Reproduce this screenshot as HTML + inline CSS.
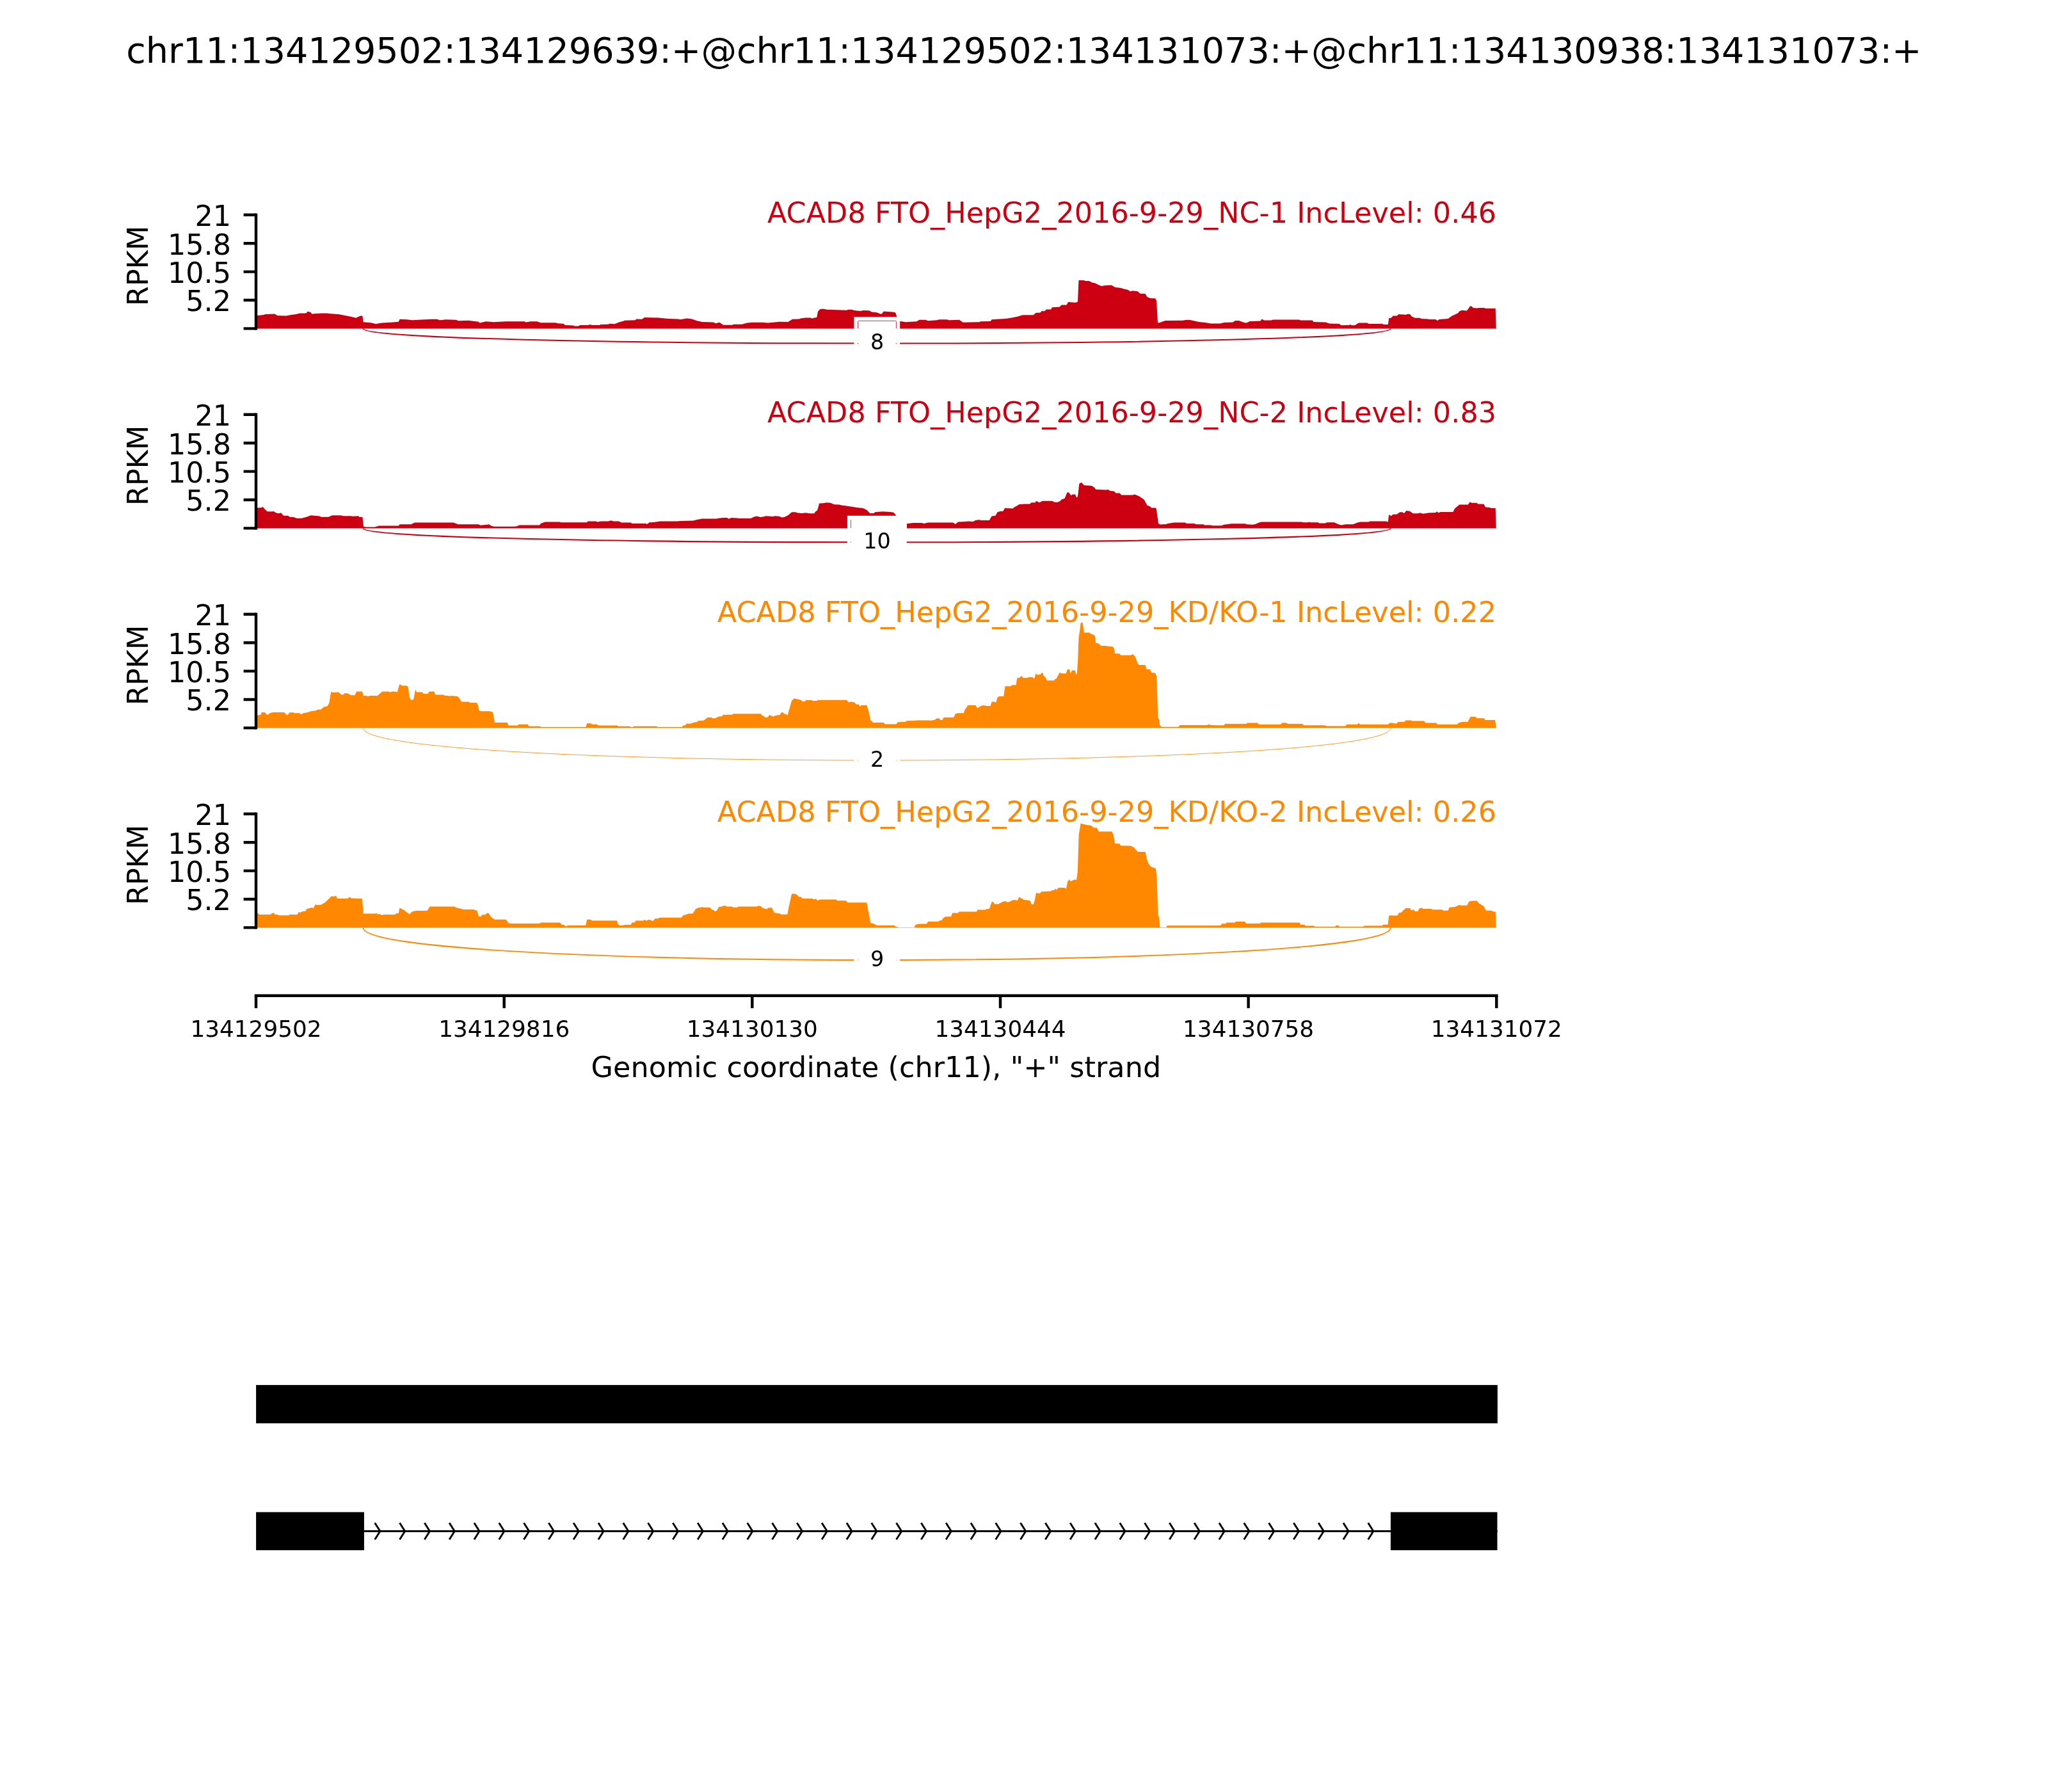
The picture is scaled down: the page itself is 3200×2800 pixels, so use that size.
<!DOCTYPE html><html><head><meta charset="utf-8"><title>Sashimi plot</title><style>html,body{margin:0;padding:0;background:#fff;width:3200px;height:2800px;overflow:hidden}svg{display:block;will-change:transform}text{font-family:'DejaVu Sans','Liberation Sans',sans-serif}</style></head><body>
<svg width="3200" height="2800" viewBox="0 0 3200 2800">
<rect width="3200" height="2800" fill="#fff"/>
<text x="1600" y="97.7" font-size="55.56" text-anchor="middle">chr11:134129502:134129639:+@chr11:134129502:134131073:+@chr11:134130938:134131073:+</text>
<path d="M400.0,513.4 L400.0,492.9 L402.0,492.9 L411.7,492.1 L414.6,491.0 L429.3,490.5 L433.2,492.9 L446.9,493.5 L454.7,492.1 L462.5,491.0 L468.4,489.6 L478.1,489.6 L481.0,486.6 L486.0,488.2 L487.0,490.5 L501.6,489.6 L511.3,489.6 L517.2,490.2 L528.9,491.0 L536.7,492.5 L548.4,494.8 L556.2,496.8 L563.1,493.5 L566.4,493.5 L567.6,503.2 L579.7,504.2 L587.5,506.2 L591.4,505.2 L597.3,504.6 L611.0,503.8 L622.7,502.7 L624.6,498.8 L636.3,499.3 L644.1,500.3 L673.4,498.8 L683.2,498.8 L687.1,500.3 L696.9,499.3 L712.5,499.7 L716.4,501.3 L732.0,500.7 L747.7,502.7 L749.6,504.6 L759.4,502.3 L771.1,503.2 L790.6,502.3 L800.0,502.3 L819.5,502.3 L821.5,503.4 L829.3,502.3 L839.0,502.3 L844.9,504.2 L868.4,504.2 L871.3,505.2 L880.1,505.8 L883.0,508.1 L895.7,508.5 L897.7,509.5 L903.5,509.5 L906.4,508.1 L919.1,508.1 L922.1,507.1 L925.0,508.1 L936.7,508.1 L938.7,507.1 L950.4,506.8 L952.3,505.8 L960.2,506.2 L968.0,503.2 L973.8,501.7 L975.8,500.7 L992.4,500.3 L994.3,498.4 L1003.1,498.8 L1007.0,496.0 L1028.5,496.4 L1044.1,498.0 L1059.8,498.4 L1062.7,499.3 L1073.4,497.4 L1081.2,498.4 L1089.1,501.3 L1096.9,502.9 L1114.5,503.4 L1118.4,505.2 L1124.2,503.8 L1130.1,507.7 L1143.8,507.7 L1146.7,506.8 L1159.4,506.8 L1167.2,504.6 L1177.0,503.8 L1190.6,503.8 L1200.0,504.6 L1207.8,503.8 L1217.6,502.7 L1231.2,503.0 L1238.1,498.8 L1248.8,498.4 L1250.8,497.4 L1258.6,496.4 L1266.4,496.4 L1268.4,497.4 L1276.2,496.0 L1278.1,486.6 L1282.0,482.7 L1287.9,482.7 L1291.8,483.7 L1323.0,484.7 L1325.0,483.7 L1330.9,483.7 L1334.8,485.1 L1344.5,486.1 L1348.4,485.1 L1358.2,485.3 L1362.1,487.6 L1369.9,488.2 L1375.8,490.5 L1377.7,490.5 L1380.7,486.6 L1395.3,487.6 L1399.2,488.6 L1401.2,494.5 L1403.0,513.4 L1406.1,513.4 L1406.1,501.9 L1409.0,502.3 L1414.8,503.2 L1432.4,502.3 L1436.3,499.7 L1446.1,499.7 L1450.0,501.3 L1463.7,500.3 L1467.6,499.3 L1479.3,499.3 L1483.2,500.3 L1498.8,499.7 L1504.7,503.8 L1530.1,503.2 L1532.0,502.3 L1547.7,501.9 L1549.6,499.3 L1557.4,498.8 L1571.1,498.0 L1580.9,496.4 L1590.6,494.5 L1596.5,492.5 L1600.0,492.3 L1614.6,492.3 L1618.6,488.8 L1625.4,488.4 L1628.3,485.4 L1631.2,486.4 L1635.2,483.5 L1642.0,483.5 L1643.9,480.2 L1655.7,479.6 L1658.6,476.6 L1666.4,476.6 L1669.3,471.8 L1673.2,472.3 L1680.1,472.7 L1684.0,471.8 L1685.4,438.0 L1693.8,438.0 L1695.7,438.9 L1701.6,438.9 L1706.4,441.5 L1711.3,442.5 L1717.2,445.4 L1721.1,447.0 L1727.0,446.0 L1736.7,445.4 L1742.6,448.9 L1750.4,449.7 L1756.2,451.6 L1762.1,452.8 L1766.0,455.2 L1769.9,454.2 L1777.7,455.2 L1781.6,458.7 L1789.5,459.1 L1792.4,463.9 L1797.3,465.9 L1805.1,466.3 L1807.0,469.8 L1809.0,504.0 L1810.9,504.4 L1820.7,501.1 L1848.0,500.7 L1853.9,499.7 L1859.8,500.1 L1873.4,503.0 L1883.2,504.0 L1892.0,505.5 L1906.6,505.5 L1912.5,504.0 L1926.2,503.6 L1930.1,501.1 L1935.9,501.1 L1943.8,504.0 L1947.7,504.4 L1952.9,502.0 L1969.5,501.6 L1971.5,498.5 L1975.4,500.5 L1986.1,500.5 L1989.1,499.5 L2030.1,499.5 L2032.0,500.5 L2050.6,500.5 L2052.5,503.0 L2071.1,503.4 L2077.0,505.4 L2092.6,505.9 L2095.5,508.3 L2108.2,507.9 L2110.2,506.9 L2112.1,508.3 L2117.0,508.3 L2122.9,504.6 L2136.5,504.6 L2138.5,505.9 L2160.0,505.9 L2161.9,506.9 L2168.8,506.9 L2170.3,497.1 L2173.6,496.8 L2176.6,493.6 L2182.4,493.6 L2185.4,490.9 L2197.1,491.7 L2199.0,490.7 L2202.9,490.7 L2205.9,494.6 L2210.7,496.8 L2218.6,496.8 L2220.5,498.1 L2231.2,498.5 L2233.2,499.1 L2243.0,499.1 L2245.9,501.1 L2248.8,499.1 L2262.5,498.1 L2268.4,493.8 L2278.1,489.3 L2280.1,486.4 L2284.0,484.8 L2291.8,485.4 L2294.7,482.1 L2296.7,478.6 L2299.6,478.6 L2301.6,481.1 L2307.4,481.5 L2311.3,481.1 L2319.1,481.1 L2321.1,482.1 L2336.7,482.1 L2337.7,512.8 L2337.7,513.4 Z" fill="#CC0011"/>
<path d="M567.3,513.4 C567.3,544.2 2172.9,544.2 2172.9,513.4" fill="none" stroke="#CC0011" stroke-width="2.00"/>
<rect x="1334.4" y="495.0" width="71.7" height="83.0" fill="#fff"/>
<text x="1370.5" y="546.2" font-size="33.33" text-anchor="middle">8</text>
<path d="M1340.5,513.0 L1340.5,502.6 Q1340.5,501.4 1341.7,501.4 L1399.2,501.4 Q1400.4,501.4 1400.4,502.6 L1400.4,513.0" fill="none" stroke="#CC0011" stroke-width="0.8"/>
<rect x="1340.0" y="536.0" width="1" height="1" fill="#CC0011"/>
<rect x="1399.9" y="536.0" width="1" height="1" fill="#CC0011"/>
<path d="M400,335.8 L400,513.4" stroke="#000" stroke-width="4.44" stroke-linecap="square"/>
<path d="M380.6,513.4 L400,513.4 M380.6,469.0 L400,469.0 M380.6,424.6 L400,424.6 M380.6,380.2 L400,380.2 M380.6,335.8 L400,335.8 " stroke="#000" stroke-width="4.44"/>
<text x="361" y="486.3" font-size="44.44" text-anchor="end">5.2</text>
<text x="361" y="441.9" font-size="44.44" text-anchor="end">10.5</text>
<text x="361" y="397.5" font-size="44.44" text-anchor="end">15.8</text>
<text x="361" y="353.1" font-size="44.44" text-anchor="end">21</text>
<text transform="translate(231,415.3) rotate(-90)" font-size="44.44" text-anchor="middle">RPKM</text>
<text x="2338" y="348.4" font-size="44.44" text-anchor="end" fill="#CC0011" textLength="1139.1" lengthAdjust="spacing">ACAD8 FTO_HepG2_2016-9-29_NC-1 IncLevel: 0.46</text>
<path d="M400.0,825.4 L400.0,793.5 L402.0,793.5 L408.8,792.9 L410.7,792.1 L413.7,795.4 L417.6,799.3 L425.4,799.3 L427.3,798.8 L431.2,801.3 L435.2,802.3 L439.1,801.3 L443.0,805.8 L449.8,805.8 L452.7,807.7 L458.6,808.1 L464.5,810.1 L471.3,809.7 L478.1,808.1 L485.9,805.2 L499.6,806.6 L501.6,807.7 L513.3,807.7 L519.1,805.2 L532.8,805.2 L536.7,806.2 L548.4,806.2 L551.4,806.8 L560.2,806.2 L561.1,807.7 L566.4,807.7 L568.0,822.8 L571.9,823.4 L585.5,823.4 L592.4,821.4 L622.7,821.4 L624.6,819.3 L642.2,819.3 L648.0,816.5 L708.6,816.5 L715.4,819.3 L747.7,819.3 L750.6,820.8 L761.3,819.8 L764.3,819.3 L767.2,821.4 L772.1,822.8 L800.0,822.8 L806.8,822.4 L811.7,820.4 L843.0,820.4 L844.9,817.9 L851.8,815.4 L874.2,815.4 L876.2,816.3 L917.2,816.3 L918.2,814.4 L930.9,814.4 L933.8,815.4 L938.7,814.4 L950.4,814.4 L953.3,813.4 L956.2,813.4 L958.2,814.4 L967.0,814.4 L970.9,816.5 L985.5,816.5 L987.5,817.9 L1009.0,817.9 L1010.9,818.9 L1014.8,816.3 L1022.7,815.9 L1024.6,815.4 L1031.4,814.4 L1057.8,814.4 L1063.7,814.0 L1083.2,813.4 L1089.1,812.0 L1096.9,810.5 L1120.3,810.5 L1122.3,809.7 L1130.1,809.1 L1136.0,809.1 L1138.9,810.7 L1142.8,809.1 L1151.6,809.5 L1154.5,810.1 L1173.0,810.1 L1177.0,808.1 L1181.8,806.6 L1188.7,808.1 L1194.5,807.1 L1196.5,806.2 L1200.0,806.6 L1207.8,807.1 L1210.7,806.2 L1217.6,806.8 L1221.5,808.5 L1225.4,808.1 L1231.2,805.2 L1237.1,800.3 L1243.0,800.3 L1245.9,801.3 L1252.7,801.9 L1258.6,801.3 L1265.4,802.3 L1272.3,802.3 L1274.2,799.3 L1277.1,797.4 L1280.1,786.6 L1285.9,786.2 L1291.8,785.3 L1297.7,785.7 L1303.5,788.2 L1311.3,788.6 L1315.2,789.6 L1323.0,790.5 L1332.8,792.1 L1338.7,792.9 L1348.4,794.1 L1354.3,796.8 L1359.2,801.9 L1365.0,801.9 L1368.0,799.9 L1379.7,799.3 L1391.4,799.9 L1396.3,800.7 L1400.2,805.2 L1402.0,825.6 L1416.8,825.6 L1416.8,818.3 L1426.6,816.9 L1440.0,816.9 L1444.1,817.9 L1450.0,816.5 L1489.1,816.5 L1493.0,818.9 L1496.9,815.5 L1508.6,815.0 L1512.5,814.4 L1520.3,815.0 L1524.2,813.0 L1530.1,812.0 L1532.0,813.0 L1545.7,813.0 L1549.6,806.6 L1555.5,805.8 L1558.4,800.3 L1563.3,798.8 L1567.2,798.8 L1570.1,794.1 L1582.8,794.5 L1584.8,792.5 L1588.7,790.5 L1592.6,788.0 L1600.0,787.6 L1608.8,787.6 L1611.7,785.3 L1617.6,785.3 L1618.9,782.7 L1624.4,785.3 L1628.3,782.7 L1643.9,782.7 L1647.9,784.7 L1652.7,784.7 L1656.6,782.7 L1658.6,780.4 L1663.5,778.8 L1667.4,769.6 L1670.3,769.6 L1673.2,773.9 L1676.2,772.6 L1680.1,772.6 L1682.0,777.5 L1684.0,775.9 L1686.3,755.8 L1689.8,753.8 L1693.8,758.3 L1705.5,758.9 L1709.4,761.2 L1712.3,764.8 L1728.9,765.5 L1730.9,764.8 L1734.8,767.1 L1740.6,767.5 L1743.6,770.4 L1749.4,770.4 L1752.3,773.4 L1769.9,773.4 L1772.9,772.4 L1779.7,775.3 L1787.5,780.4 L1792.4,789.6 L1797.3,791.5 L1799.2,793.5 L1806.1,793.5 L1807.0,796.4 L1810.0,817.9 L1812.9,819.5 L1822.7,818.9 L1824.6,817.9 L1834.4,816.5 L1852.0,816.5 L1853.9,817.9 L1865.6,817.9 L1869.5,819.3 L1880.3,819.3 L1882.2,820.4 L1892.0,820.4 L1893.9,821.2 L1908.6,821.2 L1912.5,819.8 L1924.2,818.3 L1945.7,818.3 L1947.7,819.3 L1957.4,819.8 L1961.5,819.1 L1967.2,816.5 L1971.1,815.4 L2034.0,815.4 L2035.9,816.3 L2043.8,816.3 L2045.7,815.4 L2047.7,816.3 L2059.4,816.3 L2061.3,817.5 L2071.1,817.5 L2073.0,816.3 L2084.8,816.3 L2090.6,818.9 L2095.5,820.4 L2100.4,819.8 L2102.3,819.3 L2114.1,819.3 L2121.9,816.3 L2125.8,815.4 L2138.5,815.4 L2140.4,814.4 L2165.8,814.4 L2168.8,815.4 L2170.1,804.2 L2173.6,806.2 L2176.6,803.8 L2182.4,803.8 L2187.3,800.3 L2191.2,800.3 L2194.1,801.9 L2197.1,798.0 L2202.9,798.8 L2207.8,802.3 L2215.6,802.3 L2218.6,801.3 L2223.4,802.7 L2233.2,801.3 L2243.0,800.9 L2244.9,799.3 L2247.9,801.3 L2250.8,799.9 L2270.3,799.9 L2273.2,794.5 L2280.1,788.6 L2293.8,788.6 L2296.7,784.3 L2299.6,785.7 L2307.4,785.7 L2309.4,787.6 L2318.2,787.6 L2321.1,792.5 L2327.9,792.9 L2329.9,794.1 L2336.7,794.1 L2337.7,824.7 L2337.7,825.4 Z" fill="#CC0011"/>
<path d="M567.3,825.4 C567.3,854.6 2172.9,854.6 2172.9,825.4" fill="none" stroke="#CC0011" stroke-width="2.10"/>
<rect x="1323.9" y="805.8" width="92.8" height="83.0" fill="#fff"/>
<text x="1370.5" y="857.0" font-size="33.33" text-anchor="middle">10</text>
<path d="M1329.5,812.2 L1329.5,825.2" fill="none" stroke="#CC0011" stroke-width="0.8"/>
<rect x="1329" y="846.8" width="1" height="1" fill="#CC0011"/>
<path d="M400,647.8 L400,825.4" stroke="#000" stroke-width="4.44" stroke-linecap="square"/>
<path d="M380.6,825.4 L400,825.4 M380.6,781.0 L400,781.0 M380.6,736.6 L400,736.6 M380.6,692.2 L400,692.2 M380.6,647.8 L400,647.8 " stroke="#000" stroke-width="4.44"/>
<text x="361" y="798.3" font-size="44.44" text-anchor="end">5.2</text>
<text x="361" y="753.9" font-size="44.44" text-anchor="end">10.5</text>
<text x="361" y="709.5" font-size="44.44" text-anchor="end">15.8</text>
<text x="361" y="665.1" font-size="44.44" text-anchor="end">21</text>
<text transform="translate(231,727.3) rotate(-90)" font-size="44.44" text-anchor="middle">RPKM</text>
<text x="2338" y="660.4" font-size="44.44" text-anchor="end" fill="#CC0011" textLength="1139.1" lengthAdjust="spacing">ACAD8 FTO_HepG2_2016-9-29_NC-2 IncLevel: 0.83</text>
<path d="M400.0,1137.4 L400.0,1117.7 L402.3,1117.7 L407.8,1116.6 L408.8,1112.9 L413.7,1112.9 L416.6,1116.6 L419.5,1116.6 L421.5,1114.2 L426.4,1112.9 L443.9,1112.9 L448.8,1117.7 L452.7,1113.2 L458.6,1113.2 L460.5,1114.2 L468.4,1114.2 L470.3,1116.2 L474.2,1114.2 L480.1,1113.2 L485.9,1111.3 L493.8,1110.3 L495.7,1108.8 L501.6,1108.4 L505.5,1104.8 L511.3,1103.5 L514.3,1098.6 L517.2,1081.0 L520.1,1082.0 L527.0,1081.4 L529.9,1082.0 L532.8,1085.3 L536.7,1085.3 L538.7,1083.0 L543.6,1083.4 L548.4,1086.3 L554.3,1086.3 L557.2,1080.4 L566.0,1080.4 L568.0,1087.3 L571.9,1086.9 L575.8,1087.9 L577.7,1086.9 L585.5,1086.9 L589.5,1087.3 L593.4,1083.9 L597.3,1080.4 L607.0,1080.4 L610.0,1081.4 L612.9,1080.4 L616.8,1080.4 L620.7,1081.4 L624.2,1069.3 L628.5,1071.2 L636.3,1071.6 L638.3,1076.1 L639.3,1088.8 L642.2,1093.7 L646.1,1093.1 L649.0,1077.5 L651.0,1081.4 L659.8,1081.4 L661.7,1083.9 L668.6,1083.9 L670.5,1080.4 L678.3,1080.4 L680.3,1085.5 L693.0,1085.5 L694.9,1086.9 L700.8,1086.9 L702.7,1087.9 L704.7,1086.9 L714.5,1087.9 L717.4,1090.8 L721.3,1096.6 L732.0,1096.6 L735.0,1098.0 L744.7,1098.0 L746.7,1101.5 L748.6,1109.9 L751.6,1111.3 L765.2,1111.3 L770.1,1112.7 L773.0,1128.9 L792.6,1128.9 L794.5,1133.4 L800.0,1133.4 L808.8,1133.4 L810.7,1131.8 L824.4,1131.8 L826.4,1134.7 L843.9,1134.7 L845.9,1136.1 L915.2,1136.1 L917.2,1130.2 L923.0,1130.2 L925.0,1131.8 L932.8,1131.8 L934.8,1133.4 L964.1,1133.4 L966.0,1134.7 L983.6,1134.7 L985.5,1136.1 L988.5,1136.1 L990.4,1134.7 L1025.6,1134.7 L1027.5,1136.1 L1065.6,1136.1 L1067.6,1133.4 L1070.5,1133.4 L1072.5,1130.8 L1079.3,1130.8 L1083.2,1128.9 L1089.1,1127.9 L1091.0,1126.3 L1098.8,1125.9 L1101.8,1124.0 L1105.7,1121.1 L1111.5,1121.1 L1114.5,1122.4 L1118.4,1122.0 L1122.3,1119.7 L1128.1,1119.1 L1130.1,1116.8 L1143.8,1116.8 L1145.7,1115.2 L1188.7,1115.2 L1190.6,1118.1 L1193.5,1118.5 L1195.5,1121.1 L1200.0,1120.5 L1202.0,1117.1 L1205.9,1118.5 L1207.8,1119.7 L1211.7,1118.1 L1218.6,1117.1 L1220.5,1113.2 L1223.4,1113.2 L1225.4,1115.6 L1228.3,1115.8 L1230.3,1118.1 L1233.2,1108.4 L1237.1,1094.7 L1241.0,1091.2 L1244.9,1092.3 L1251.8,1093.7 L1253.7,1096.1 L1257.6,1096.1 L1259.6,1093.7 L1267.4,1093.7 L1270.3,1095.1 L1276.2,1095.1 L1278.1,1093.7 L1323.0,1093.7 L1326.0,1097.6 L1328.9,1096.6 L1334.8,1097.2 L1337.7,1100.5 L1341.6,1100.5 L1343.6,1104.1 L1345.5,1102.1 L1354.3,1102.1 L1357.2,1111.3 L1360.2,1125.0 L1364.1,1128.9 L1380.7,1128.9 L1382.6,1131.4 L1400.2,1131.4 L1403.1,1128.3 L1414.8,1127.9 L1416.8,1126.3 L1430.5,1125.9 L1432.4,1125.4 L1451.0,1125.4 L1452.9,1125.9 L1459.8,1125.0 L1463.7,1122.4 L1467.6,1122.4 L1469.5,1125.0 L1472.5,1125.0 L1474.4,1121.1 L1490.0,1121.1 L1493.0,1115.2 L1496.9,1114.2 L1505.7,1114.2 L1507.6,1108.8 L1512.5,1102.1 L1524.2,1102.1 L1527.1,1106.4 L1530.1,1104.5 L1534.0,1102.5 L1537.9,1102.1 L1539.8,1103.1 L1547.7,1103.1 L1549.6,1096.6 L1553.5,1096.6 L1556.4,1097.6 L1558.4,1089.8 L1561.3,1087.9 L1568.2,1087.9 L1570.5,1072.2 L1576.0,1072.2 L1578.5,1072.5 L1581.8,1070.3 L1587.7,1070.3 L1589.1,1059.5 L1592.6,1058.9 L1596.5,1056.0 L1598.4,1058.9 L1600.0,1059.3 L1605.9,1059.1 L1607.3,1058.1 L1613.2,1058.1 L1616.1,1060.6 L1618.3,1052.5 L1620.5,1054.3 L1625.6,1054.0 L1627.8,1051.1 L1629.3,1051.4 L1630.8,1056.2 L1633.0,1057.7 L1635.9,1063.2 L1646.9,1063.2 L1648.3,1061.3 L1650.5,1060.6 L1652.7,1056.2 L1655.7,1050.8 L1658.6,1052.2 L1665.9,1052.2 L1667.7,1045.9 L1671.0,1045.9 L1672.8,1052.2 L1674.7,1047.4 L1679.8,1047.4 L1681.3,1054.3 L1682.8,1052.5 L1684.2,1032.0 L1685.4,996.9 L1687.2,985.2 L1688.6,973.4 L1691.5,972.3 L1693.8,988.4 L1702.5,988.4 L1705.5,991.0 L1709.1,991.7 L1711.3,994.7 L1712.1,1004.5 L1717.2,1005.7 L1720.1,1008.9 L1729.6,1009.3 L1731.1,1010.1 L1738.4,1010.3 L1740.6,1013.0 L1742.1,1021.0 L1749.4,1021.3 L1750.9,1023.7 L1767.0,1023.7 L1769.9,1022.1 L1773.6,1025.4 L1778.0,1037.2 L1780.2,1038.9 L1789.7,1038.9 L1791.2,1045.5 L1797.0,1045.9 L1799.2,1051.1 L1805.1,1051.4 L1807.3,1056.9 L1808.0,1081.8 L1809.5,1121.4 L1810.9,1123.6 L1812.4,1133.8 L1815.3,1135.7 L1841.7,1135.7 L1843.2,1133.1 L1885.6,1133.1 L1888.6,1132.1 L1891.5,1132.8 L1900.0,1133.2 L1912.1,1133.2 L1914.3,1131.0 L1947.2,1131.0 L1949.4,1129.4 L1964.8,1129.4 L1967.0,1132.1 L2001.1,1132.1 L2003.3,1129.4 L2009.9,1129.4 L2012.1,1131.0 L2035.1,1131.0 L2037.3,1133.2 L2070.3,1133.2 L2072.5,1134.5 L2102.2,1134.5 L2104.4,1132.1 L2120.8,1132.1 L2123.0,1129.4 L2125.2,1132.1 L2169.2,1132.1 L2171.4,1129.4 L2175.8,1129.4 L2179.1,1130.5 L2182.4,1130.5 L2184.6,1127.9 L2194.4,1127.9 L2196.6,1125.5 L2204.3,1125.5 L2206.5,1126.6 L2225.2,1126.6 L2227.4,1129.4 L2243.9,1129.4 L2246.1,1132.1 L2276.8,1132.1 L2279.0,1129.4 L2284.5,1127.9 L2293.3,1127.9 L2297.7,1120.0 L2305.4,1120.0 L2307.6,1122.2 L2318.6,1122.2 L2320.8,1125.0 L2336.2,1125.0 L2337.7,1136.7 L2337.7,1137.4 Z" fill="#FF8800"/>
<path d="M567.3,1137.4 C567.3,1204.9 2172.9,1204.9 2172.9,1137.4" fill="none" stroke="#FF8800" stroke-width="0.85"/>
<rect x="1334.4" y="1146.5" width="71.7" height="83.0" fill="#fff"/>
<text x="1370.5" y="1197.7" font-size="33.33" text-anchor="middle">2</text>
<rect x="1340.0" y="1187.5" width="1" height="1" fill="#FF8800"/>
<rect x="1399.9" y="1187.5" width="1" height="1" fill="#FF8800"/>
<path d="M400,959.8 L400,1137.4" stroke="#000" stroke-width="4.44" stroke-linecap="square"/>
<path d="M380.6,1137.4 L400,1137.4 M380.6,1093.0 L400,1093.0 M380.6,1048.6 L400,1048.6 M380.6,1004.2 L400,1004.2 M380.6,959.8 L400,959.8 " stroke="#000" stroke-width="4.44"/>
<text x="361" y="1110.3" font-size="44.44" text-anchor="end">5.2</text>
<text x="361" y="1065.9" font-size="44.44" text-anchor="end">10.5</text>
<text x="361" y="1021.5" font-size="44.44" text-anchor="end">15.8</text>
<text x="361" y="977.1" font-size="44.44" text-anchor="end">21</text>
<text transform="translate(231,1039.3) rotate(-90)" font-size="44.44" text-anchor="middle">RPKM</text>
<text x="2338" y="972.4" font-size="44.44" text-anchor="end" fill="#FF8800" textLength="1217.3" lengthAdjust="spacing">ACAD8 FTO_HepG2_2016-9-29_KD/KO-1 IncLevel: 0.22</text>
<path d="M400.0,1449.4 L400.0,1426.4 L402.9,1426.4 L404.9,1428.9 L422.5,1428.9 L425.4,1426.8 L428.3,1426.4 L429.3,1428.8 L434.2,1429.3 L436.1,1430.3 L450.8,1430.3 L452.7,1428.9 L464.5,1428.9 L466.4,1425.4 L470.3,1425.4 L472.3,1424.1 L477.1,1424.1 L479.1,1420.2 L484.0,1419.0 L486.9,1418.0 L489.8,1419.0 L492.8,1413.3 L495.7,1414.2 L501.6,1413.7 L504.5,1411.8 L507.4,1410.8 L509.4,1408.4 L512.3,1405.9 L515.2,1403.0 L518.2,1400.0 L521.1,1401.0 L525.0,1399.5 L527.0,1403.9 L543.6,1403.9 L545.5,1401.4 L549.4,1403.4 L566.0,1404.3 L567.6,1427.4 L586.5,1427.4 L588.5,1426.4 L589.5,1428.8 L592.4,1428.0 L597.3,1429.9 L599.2,1428.9 L616.8,1428.9 L619.7,1427.0 L622.7,1427.0 L624.6,1418.2 L627.5,1420.2 L631.4,1422.1 L636.3,1426.0 L640.2,1428.4 L642.2,1426.0 L645.1,1424.1 L650.0,1422.9 L667.6,1422.9 L671.5,1416.6 L709.6,1416.6 L714.5,1418.6 L721.3,1420.0 L723.2,1421.1 L739.8,1421.1 L745.7,1422.9 L747.7,1431.9 L751.6,1431.9 L753.5,1429.3 L758.4,1429.3 L760.4,1426.8 L763.3,1426.8 L768.2,1433.8 L773.0,1436.8 L790.6,1436.8 L794.5,1442.0 L796.5,1443.0 L800.0,1443.0 L843.0,1443.0 L844.9,1441.4 L875.2,1441.4 L877.1,1444.6 L881.1,1445.0 L884.0,1447.5 L886.9,1445.9 L915.2,1445.9 L917.2,1436.8 L923.0,1436.8 L925.0,1438.5 L964.1,1438.5 L965.6,1444.4 L968.9,1445.9 L972.9,1445.9 L975.8,1445.0 L985.5,1445.0 L987.5,1441.6 L991.4,1441.6 L993.4,1438.5 L1005.1,1438.5 L1007.0,1437.1 L1010.0,1438.7 L1012.9,1437.1 L1016.8,1437.5 L1018.8,1438.7 L1020.7,1438.7 L1023.6,1435.2 L1028.5,1435.2 L1030.5,1433.8 L1064.6,1433.8 L1067.6,1429.9 L1073.4,1428.8 L1075.4,1427.4 L1082.2,1427.4 L1087.1,1420.2 L1091.0,1418.2 L1095.9,1418.0 L1097.3,1416.6 L1098.8,1418.0 L1109.6,1418.0 L1112.5,1421.5 L1114.5,1421.5 L1117.4,1424.1 L1120.3,1422.5 L1123.2,1417.0 L1128.1,1416.6 L1130.1,1415.3 L1133.9,1415.3 L1135.9,1416.6 L1143.8,1416.6 L1145.7,1418.0 L1151.6,1418.0 L1153.5,1416.6 L1182.8,1416.6 L1184.8,1415.3 L1188.7,1415.7 L1190.6,1418.2 L1196.5,1420.2 L1198.4,1420.5 L1200.0,1418.4 L1205.9,1418.2 L1209.8,1426.0 L1213.7,1427.0 L1218.6,1427.4 L1220.5,1428.8 L1230.3,1428.8 L1232.2,1418.6 L1237.1,1396.5 L1242.0,1396.5 L1245.9,1398.5 L1247.9,1401.0 L1251.8,1401.4 L1253.7,1403.9 L1269.3,1403.9 L1271.3,1405.3 L1275.2,1404.5 L1277.1,1406.9 L1282.0,1405.5 L1306.4,1405.5 L1308.4,1407.3 L1322.1,1407.3 L1324.0,1410.2 L1354.3,1410.2 L1356.2,1420.5 L1360.2,1442.0 L1366.0,1443.6 L1369.9,1445.9 L1397.3,1445.9 L1399.2,1447.5 L1404.1,1448.9 L1428.5,1448.9 L1430.5,1445.0 L1436.3,1443.4 L1448.0,1443.4 L1450.0,1440.1 L1465.6,1440.1 L1467.6,1438.7 L1471.5,1437.7 L1474.4,1433.8 L1477.3,1432.3 L1486.1,1432.3 L1488.1,1426.4 L1496.9,1426.4 L1498.8,1424.5 L1526.2,1424.5 L1527.1,1421.5 L1539.8,1421.5 L1540.8,1420.2 L1545.7,1420.2 L1547.7,1414.7 L1549.6,1409.2 L1551.6,1409.2 L1554.5,1413.1 L1557.4,1412.3 L1559.4,1413.1 L1562.3,1411.2 L1567.2,1408.8 L1571.1,1407.9 L1574.0,1409.8 L1577.9,1408.8 L1582.8,1406.3 L1587.7,1406.3 L1589.6,1407.3 L1592.6,1401.4 L1596.5,1403.9 L1600.0,1406.0 L1609.5,1406.9 L1611.7,1413.1 L1614.6,1413.1 L1616.8,1406.5 L1619.0,1394.8 L1622.0,1395.9 L1625.6,1395.5 L1627.1,1393.3 L1641.7,1392.6 L1643.9,1391.1 L1646.9,1391.1 L1649.1,1388.2 L1650.5,1390.4 L1654.2,1387.1 L1663.0,1387.1 L1665.9,1388.6 L1668.1,1377.2 L1671.0,1374.2 L1673.2,1377.2 L1675.4,1375.7 L1679.8,1374.2 L1682.0,1375.0 L1683.8,1362.5 L1685.7,1303.9 L1688.6,1286.4 L1693.8,1288.1 L1699.6,1289.3 L1705.5,1290.0 L1708.4,1293.0 L1714.2,1293.4 L1716.5,1299.3 L1737.7,1299.3 L1739.9,1305.4 L1742.1,1317.9 L1749.4,1318.3 L1750.9,1321.2 L1765.5,1321.5 L1770.6,1323.3 L1774.3,1327.1 L1778.0,1331.0 L1789.7,1331.0 L1791.2,1339.8 L1794.1,1348.6 L1797.7,1353.7 L1801.4,1355.5 L1805.8,1356.7 L1807.3,1368.4 L1809.5,1429.9 L1810.9,1432.8 L1812.4,1448.7 L1822.6,1448.9 L1823.4,1446.3 L1900.0,1446.3 L1907.7,1445.9 L1908.8,1443.3 L1915.4,1443.3 L1916.5,1441.5 L1929.7,1441.5 L1930.8,1440.0 L1945.0,1440.0 L1947.2,1443.1 L1968.1,1443.1 L1970.3,1441.5 L2030.7,1441.5 L2031.8,1444.8 L2038.4,1444.8 L2039.5,1446.4 L2052.7,1446.4 L2054.9,1448.1 L2085.7,1448.1 L2087.9,1445.9 L2091.2,1445.9 L2092.3,1448.1 L2129.6,1448.1 L2131.8,1446.4 L2159.3,1446.4 L2161.5,1444.8 L2168.5,1444.8 L2170.3,1430.5 L2183.5,1430.5 L2185.7,1426.6 L2190.0,1425.5 L2192.2,1422.8 L2196.6,1419.1 L2203.2,1419.1 L2205.4,1422.8 L2208.7,1421.1 L2210.9,1423.9 L2215.3,1423.9 L2217.5,1419.6 L2220.8,1418.5 L2224.1,1420.0 L2236.2,1420.0 L2238.4,1421.3 L2253.8,1421.3 L2254.9,1422.8 L2262.6,1422.8 L2264.8,1417.8 L2273.5,1416.9 L2280.1,1414.1 L2283.4,1414.7 L2292.2,1414.7 L2295.5,1408.6 L2301.0,1407.5 L2307.6,1407.5 L2310.9,1411.4 L2315.3,1414.1 L2318.6,1416.3 L2321.9,1422.8 L2330.7,1422.8 L2332.9,1424.4 L2336.8,1424.4 L2337.7,1449.2 L2337.7,1449.4 Z" fill="#FF8800"/>
<path d="M567.3,1449.4 C567.3,1516.9 2172.9,1516.9 2172.9,1449.4" fill="none" stroke="#FF8800" stroke-width="1.90"/>
<rect x="1334.4" y="1458.5" width="71.7" height="83.0" fill="#fff"/>
<text x="1370.5" y="1509.7" font-size="33.33" text-anchor="middle">9</text>
<rect x="1340.0" y="1499.5" width="1" height="1" fill="#FF8800"/>
<rect x="1399.9" y="1499.5" width="1" height="1" fill="#FF8800"/>
<path d="M400,1271.8 L400,1449.4" stroke="#000" stroke-width="4.44" stroke-linecap="square"/>
<path d="M380.6,1449.4 L400,1449.4 M380.6,1405.0 L400,1405.0 M380.6,1360.6 L400,1360.6 M380.6,1316.2 L400,1316.2 M380.6,1271.8 L400,1271.8 " stroke="#000" stroke-width="4.44"/>
<text x="361" y="1422.3" font-size="44.44" text-anchor="end">5.2</text>
<text x="361" y="1377.9" font-size="44.44" text-anchor="end">10.5</text>
<text x="361" y="1333.5" font-size="44.44" text-anchor="end">15.8</text>
<text x="361" y="1289.1" font-size="44.44" text-anchor="end">21</text>
<text transform="translate(231,1351.3) rotate(-90)" font-size="44.44" text-anchor="middle">RPKM</text>
<text x="2338" y="1284.4" font-size="44.44" text-anchor="end" fill="#FF8800" textLength="1217.3" lengthAdjust="spacing">ACAD8 FTO_HepG2_2016-9-29_KD/KO-2 IncLevel: 0.26</text>
<path d="M400,1555.8 L2338.3,1555.8" stroke="#000" stroke-width="4.44" stroke-linecap="square"/>
<path d="M400.0,1555.8 L400.0,1575.2 M787.7,1555.8 L787.7,1575.2 M1175.3,1555.8 L1175.3,1575.2 M1563.0,1555.8 L1563.0,1575.2 M1950.6,1555.8 L1950.6,1575.2 M2338.3,1555.8 L2338.3,1575.2 " stroke="#000" stroke-width="4.44"/>
<text x="400.0" y="1619.8" font-size="35.8" text-anchor="middle">134129502</text>
<text x="787.7" y="1619.8" font-size="35.8" text-anchor="middle">134129816</text>
<text x="1175.3" y="1619.8" font-size="35.8" text-anchor="middle">134130130</text>
<text x="1563.0" y="1619.8" font-size="35.8" text-anchor="middle">134130444</text>
<text x="1950.6" y="1619.8" font-size="35.8" text-anchor="middle">134130758</text>
<text x="2338.3" y="1619.8" font-size="35.8" text-anchor="middle">134131072</text>
<text x="1368.8" y="1683" font-size="44.44" text-anchor="middle" textLength="890.7" lengthAdjust="spacing">Genomic coordinate (chr11), "+" strand</text>
<rect x="400.1" y="2164.1" width="1939.8" height="59.8" fill="#000"/>
<rect x="400.1" y="2362.7" width="168.8" height="59.5" fill="#000"/>
<rect x="2172.9" y="2362.7" width="166.6" height="59.5" fill="#000"/>
<path d="M568.9,2392.5 L2172.9,2392.5" stroke="#000" stroke-width="3"/>
<path d="M585.7,2379.4 L593.9,2392.5 L585.7,2405.6 M624.5,2379.4 L632.7,2392.5 L624.5,2405.6 M663.3,2379.4 L671.5,2392.5 L663.3,2405.6 M702.1,2379.4 L710.3,2392.5 L702.1,2405.6 M740.9,2379.4 L749.1,2392.5 L740.9,2405.6 M779.7,2379.4 L787.9,2392.5 L779.7,2405.6 M818.5,2379.4 L826.7,2392.5 L818.5,2405.6 M857.3,2379.4 L865.5,2392.5 L857.3,2405.6 M896.1,2379.4 L904.3,2392.5 L896.1,2405.6 M934.9,2379.4 L943.1,2392.5 L934.9,2405.6 M973.7,2379.4 L981.9,2392.5 L973.7,2405.6 M1012.5,2379.4 L1020.7,2392.5 L1012.5,2405.6 M1051.3,2379.4 L1059.5,2392.5 L1051.3,2405.6 M1090.1,2379.4 L1098.3,2392.5 L1090.1,2405.6 M1128.9,2379.4 L1137.1,2392.5 L1128.9,2405.6 M1167.7,2379.4 L1175.9,2392.5 L1167.7,2405.6 M1206.5,2379.4 L1214.7,2392.5 L1206.5,2405.6 M1245.3,2379.4 L1253.5,2392.5 L1245.3,2405.6 M1284.1,2379.4 L1292.3,2392.5 L1284.1,2405.6 M1322.9,2379.4 L1331.1,2392.5 L1322.9,2405.6 M1361.7,2379.4 L1369.9,2392.5 L1361.7,2405.6 M1400.5,2379.4 L1408.7,2392.5 L1400.5,2405.6 M1439.3,2379.4 L1447.5,2392.5 L1439.3,2405.6 M1478.1,2379.4 L1486.3,2392.5 L1478.1,2405.6 M1516.9,2379.4 L1525.1,2392.5 L1516.9,2405.6 M1555.7,2379.4 L1563.9,2392.5 L1555.7,2405.6 M1594.5,2379.4 L1602.7,2392.5 L1594.5,2405.6 M1633.3,2379.4 L1641.5,2392.5 L1633.3,2405.6 M1672.1,2379.4 L1680.3,2392.5 L1672.1,2405.6 M1710.9,2379.4 L1719.1,2392.5 L1710.9,2405.6 M1749.7,2379.4 L1757.9,2392.5 L1749.7,2405.6 M1788.5,2379.4 L1796.7,2392.5 L1788.5,2405.6 M1827.3,2379.4 L1835.5,2392.5 L1827.3,2405.6 M1866.1,2379.4 L1874.3,2392.5 L1866.1,2405.6 M1904.9,2379.4 L1913.1,2392.5 L1904.9,2405.6 M1943.7,2379.4 L1951.9,2392.5 L1943.7,2405.6 M1982.5,2379.4 L1990.7,2392.5 L1982.5,2405.6 M2021.3,2379.4 L2029.5,2392.5 L2021.3,2405.6 M2060.1,2379.4 L2068.3,2392.5 L2060.1,2405.6 M2098.9,2379.4 L2107.1,2392.5 L2098.9,2405.6 M2137.7,2379.4 L2145.9,2392.5 L2137.7,2405.6 " fill="none" stroke="#000" stroke-width="2.9" stroke-linejoin="miter"/>
<circle cx="2338.5" cy="2392.5" r="1.5" fill="#000"/><circle cx="2338.7" cy="2194" r="1.5" fill="#000"/>
</svg></body></html>
